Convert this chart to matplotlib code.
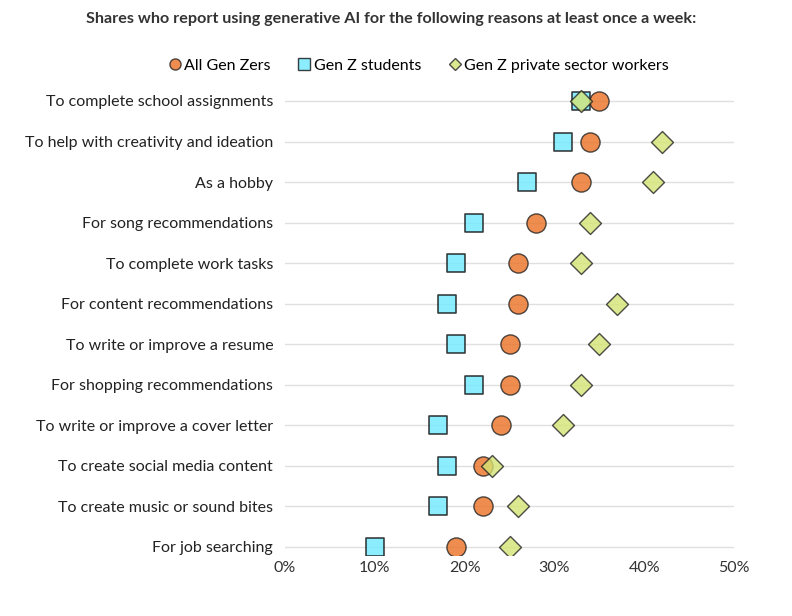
import matplotlib.pyplot as plt
from matplotlib.lines import Line2D

categories = [
    "To complete school assignments",
    "To help with creativity and ideation",
    "As a hobby",
    "For song recommendations",
    "To complete work tasks",
    "For content recommendations",
    "To write or improve a resume",
    "For shopping recommendations",
    "To write or improve a cover letter",
    "To create social media content",
    "To create music or sound bites",
    "For job searching",
]
all_gen_z = [35, 34, 33, 28, 26, 26, 25, 25, 24, 22, 22, 19]
students = [33, 31, 27, 21, 19, 18, 19, 21, 17, 18, 17, 10]
workers = [33, 42, 41, 34, 33, 37, 35, 33, 31, 23, 26, 25]
x_ticks = [0, 10, 20, 30, 40, 50]

plt.rcParams["font.family"] = ["Lato", "DejaVu Sans"]

fig = plt.figure(figsize=(7.92, 6.16), dpi=100)
ax = fig.add_axes([285 / 792, 1 - 555 / 616, 449 / 792, (555 - 80.7) / 616])

ypos = list(range(len(categories)))
for y in ypos:
    ax.axhline(y, color="#e0e0e0", lw=1.0, zorder=0)

ax.scatter(students, ypos, marker="s", s=150, color="#6fe9ff", alpha=0.8,
           edgecolors="#111111", linewidths=1.2, zorder=2)
ax.scatter(all_gen_z, ypos, marker="o", s=190, color="#ea7123", alpha=0.8,
           edgecolors="#222222", linewidths=1.0, zorder=3)
ax.scatter(workers, ypos, marker="D", s=125, color="#d5e474", alpha=0.8,
           edgecolors="#222222", linewidths=1.0, zorder=4)

ax.set_xlim(0, 50)
ax.set_ylim(11.2, -0.5)
ax.set_xticks(x_ticks)
ax.set_xticklabels([f"{t}%" for t in x_ticks], fontsize=11.5, color="#333333")
ax.set_yticks(ypos)
ax.set_yticklabels(categories, fontsize=11.5, color="#222222")
ax.tick_params(axis="x", length=0, pad=4.5)
ax.tick_params(axis="y", length=0, pad=8.5)
for s in ax.spines.values():
    s.set_visible(False)

fig.text(391 / 792, 1 - 19 / 616,
         "Shares who report using generative AI for the following reasons at least once a week:",
         ha="center", va="center", fontsize=11.6, fontweight="bold", color="#333333")

handles = [
    Line2D([], [], ls="none", marker="o", ms=8, mfc="#ea7123", mec="#222222", alpha=0.8),
    Line2D([], [], ls="none", marker="s", ms=8, mfc="#6fe9ff", mec="#111111", alpha=0.8),
    Line2D([], [], ls="none", marker="D", ms=6, mfc="#d5e474", mec="#222222", alpha=0.8),
]
fig.legend(handles, ["All Gen Zers", "Gen Z students", "Gen Z private sector workers"],
           loc="center", bbox_to_anchor=(418 / 792, 1 - 66 / 616), ncol=3,
           frameon=False, fontsize=11.5, handletextpad=0.1, columnspacing=1.6,
           handlelength=1.0)

fig.savefig("out.png", dpi=100, facecolor="white")
